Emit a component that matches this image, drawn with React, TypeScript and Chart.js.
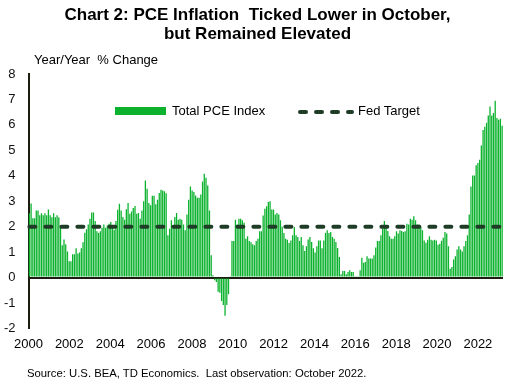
import React, { useEffect, useRef } from "react";
import { Chart, registerables } from "chart.js";

Chart.register(...registerables);

// Total PCE Index, year/year % change, monthly (Jan 2000 - Oct 2022)
const pce2000 = [2.53, 2.91, 2.33, 2.33, 2.64, 2.64, 2.45, 2.53, 2.45, 2.53, 2.45, 2.68];
const pce2001 = [2.45, 2.37, 2.53, 2.37, 2.45, 2.37, 2.0, 1.27, 1.5, 1.31, 1.03, 0.64];
const pce2002 = [0.64, 0.92, 0.92, 1.15, 0.95, 0.99, 1.15, 1.39, 1.76, 1.9, 2.09, 2.31];
const pce2003 = [2.56, 2.56, 2.22, 1.82, 1.75, 1.82, 1.96, 2.09, 1.96, 2.05, 2.12, 2.18];
const pce2004 = [1.96, 1.88, 2.22, 2.67, 2.9, 2.64, 2.38, 2.27, 2.69, 2.93, 2.51, 2.6];
const pce2005 = [2.73, 2.81, 2.51, 2.54, 2.31, 2.64, 3.0, 3.82, 3.49, 2.93, 2.84, 3.22];
const pce2006 = [3.22, 2.88, 3.06, 3.32, 3.45, 3.42, 3.39, 3.31, 1.66, 1.92, 2.25, 2.05];
const pce2007 = [2.38, 2.54, 2.27, 2.31, 2.27, 2.09, 1.86, 2.48, 3.06, 3.58, 3.42, 3.36];
const pce2008 = [3.23, 3.14, 3.14, 3.27, 3.78, 4.08, 3.92, 3.62, 2.64, 0.88, 0.09, -0.1];
const pce2009 = [-0.17, -0.56, -0.6, -0.92, -1.08, -1.5, -1.08, -0.65, 0.05, 1.44, 1.44, 2.27];
const pce2010 = [2.09, 2.31, 2.31, 2.25, 2.16, 1.53, 1.62, 1.44, 1.39, 1.31, 1.27, 1.44];
const pce2011 = [1.53, 1.82, 1.82, 2.44, 2.71, 2.8, 2.97, 3.0, 2.68, 2.68, 2.48, 2.54];
const pce2012 = [2.48, 2.25, 2.0, 1.75, 1.53, 1.49, 1.36, 1.46, 1.66, 1.99, 1.66, 1.6];
const pce2013 = [1.44, 1.6, 1.27, 1.05, 1.23, 1.5, 1.6, 1.4, 1.15, 0.99, 1.23, 1.46];
const pce2014 = [1.46, 1.15, 1.46, 1.75, 1.86, 1.75, 1.79, 1.6, 1.53, 1.4, 1.16, 0.81];
const pce2015 = [0.13, 0.26, 0.26, 0.13, 0.22, 0.29, 0.22, 0.22, 0.05, 0.05, 0.03, 0.29];
const pce2016 = [0.78, 0.58, 0.61, 0.84, 0.75, 0.75, 0.75, 0.88, 1.18, 1.44, 1.44, 1.66];
const pce2017 = [1.92, 2.22, 2.05, 1.83, 1.62, 1.53, 1.53, 1.62, 1.82, 1.73, 1.86, 1.83];
const pce2018 = [1.79, 1.82, 2.12, 2.09, 2.31, 2.27, 2.41, 2.25, 2.09, 2.09, 1.99, 1.86];
const pce2019 = [1.46, 1.37, 1.49, 1.62, 1.49, 1.46, 1.49, 1.46, 1.29, 1.33, 1.45, 1.57];
const pce2020 = [1.79, 1.73, 1.23, 0.35, 0.42, 0.71, 0.84, 1.1, 1.23, 1.1, 1.03, 1.23];
const pce2021 = [1.44, 1.66, 2.48, 3.58, 4.01, 4.01, 4.41, 4.5, 4.63, 5.19, 5.8, 5.93];
const pce2022 = [6.08, 6.37, 6.72, 6.37, 6.47, 6.95, 6.27, 6.2, 6.24, 5.97];

const fedTargetValue = 2;
const yearTicks = [2000, 2002, 2004, 2006, 2008, 2010, 2012, 2014, 2016, 2018, 2020, 2022];
const yTicks = [8, 7, 6, 5, 4, 3, 2, 1, 0, -1, -2];

const titleLines = ["Chart 2: PCE Inflation  Ticked Lower in October,", "but Remained Elevated"];
const axisTitle = "Year/Year  % Change";
const seriesName = "Total PCE Index";
const targetName = "Fed Target";
const sourceText = "Source: U.S. BEA, TD Economics.  Last observation: October 2022.";

const pceSeries = [
  pce2000, pce2001, pce2002, pce2003, pce2004, pce2005, pce2006, pce2007,
  pce2008, pce2009, pce2010, pce2011, pce2012, pce2013, pce2014, pce2015,
  pce2016, pce2017, pce2018, pce2019, pce2020, pce2021, pce2022,
].flat();

const monthLabels = pceSeries.map((_, i) => {
  const y = 2000 + Math.floor(i / 12);
  const m = (i % 12) + 1;
  return `${y}-${m < 10 ? "0" : ""}${m}`;
});

const GREEN = "#0cb22e";
const DARK = "#1f3d26";
const AXIS = "#1c1c10";
const FONT = "'Liberation Sans', Arial, sans-serif";

export default function App() {
  const ref = useRef<HTMLCanvasElement | null>(null);

  useEffect(() => {
    if (!ref.current) return;
    const chart = new Chart(ref.current, {
      type: "bar",
      data: {
        labels: monthLabels,
        datasets: [
          {
            type: "line",
            label: targetName,
            data: pceSeries.map(() => fedTargetValue),
            borderColor: DARK,
            borderWidth: 4,
            borderDash: [6, 10],
            borderCapStyle: "round",
            pointRadius: 0,
            fill: false,
            order: 0,
          } as any,
          {
            type: "bar",
            label: seriesName,
            data: pceSeries,
            backgroundColor: GREEN,
            borderWidth: 0,
            barPercentage: 0.75,
            categoryPercentage: 1,
            order: 1,
          },
        ],
      },
      options: {
        responsive: false,
        animation: false,
        layout: { padding: { left: 0, right: 12, top: 74, bottom: 0 } },
        plugins: { legend: { display: false }, title: { display: false }, tooltip: { enabled: false } },
        scales: {
          x: {
            type: "category",
            display: false,
            offset: true,
          },
          xLab: {
            type: "linear",
            position: "bottom",
            offset: false,
            min: 2000,
            max: 2023.23,
            grid: { display: false, drawTicks: false, offset: false },
            border: { display: false },
            afterBuildTicks: (scale: any) => {
              scale.ticks = yearTicks.map((v) => ({ value: v }));
            },
            afterFit: (scale: any) => {
              scale.height = 385 - 328.5;
            },
            ticks: {
              autoSkip: false,
              maxRotation: 0,
              includeBounds: false,
              padding: 8,
              color: "#000",
              font: { family: FONT, size: 13 },
              callback: (v: any) => String(v),
            },
          },
          y: {
            type: "linear",
            min: -2,
            max: 8,
            afterBuildTicks: (scale: any) => {
              scale.ticks = yTicks.map((v) => ({ value: v }));
            },
            afterFit: (scale: any) => {
              scale.width = 28.5;
            },
            grid: {
              drawTicks: false,
              color: (ctx: any) => (ctx.tick && ctx.tick.value === 0 ? AXIS : "rgba(0,0,0,0)"),
              lineWidth: (ctx: any) => (ctx.tick && ctx.tick.value === 0 ? 2 : 0),
            },
            border: { display: true, color: AXIS, width: 2 },
            ticks: {
              padding: 13,
              color: "#111",
              font: { family: FONT, size: 13 },
              callback: (v: any) => String(v),
            },
          },
        },
      },
    });
    return () => chart.destroy();
  }, []);

  const text: React.CSSProperties = { position: "absolute", fontFamily: FONT, color: "#000", whiteSpace: "pre" };

  return (
    <div style={{ position: "fixed", left: 0, top: 0, width: 515, height: 385, background: "#fff" }}>
      <canvas ref={ref} width={515} height={385} style={{ position: "absolute", left: 0, top: 0 }} />
      <div style={{ ...text, left: 0, width: 515, top: 5, textAlign: "center", fontWeight: "bold", fontSize: 17, lineHeight: "19px" }}>
        {titleLines[0]}
        <br />
        {titleLines[1]}
      </div>
      <div style={{ ...text, left: 34, top: 52, fontSize: 13, lineHeight: "16px" }}>{axisTitle}</div>
      <div style={{ position: "absolute", left: 115, top: 107, width: 51, height: 8, background: GREEN }} />
      <div style={{ ...text, left: 172, top: 103, fontSize: 13, lineHeight: "16px" }}>{seriesName}</div>
      <svg style={{ position: "absolute", left: 290, top: 104 }} width={70} height={16}>
        <line x1={10} y1={8} x2={62} y2={8} stroke={DARK} strokeWidth={4} strokeDasharray="6 10" strokeLinecap="round" />
      </svg>
      <div style={{ ...text, left: 358, top: 103, fontSize: 13, lineHeight: "16px" }}>{targetName}</div>
      <div style={{ ...text, left: 27, top: 367, fontSize: 11.3, lineHeight: "13px" }}>{sourceText}</div>
    </div>
  );
}
